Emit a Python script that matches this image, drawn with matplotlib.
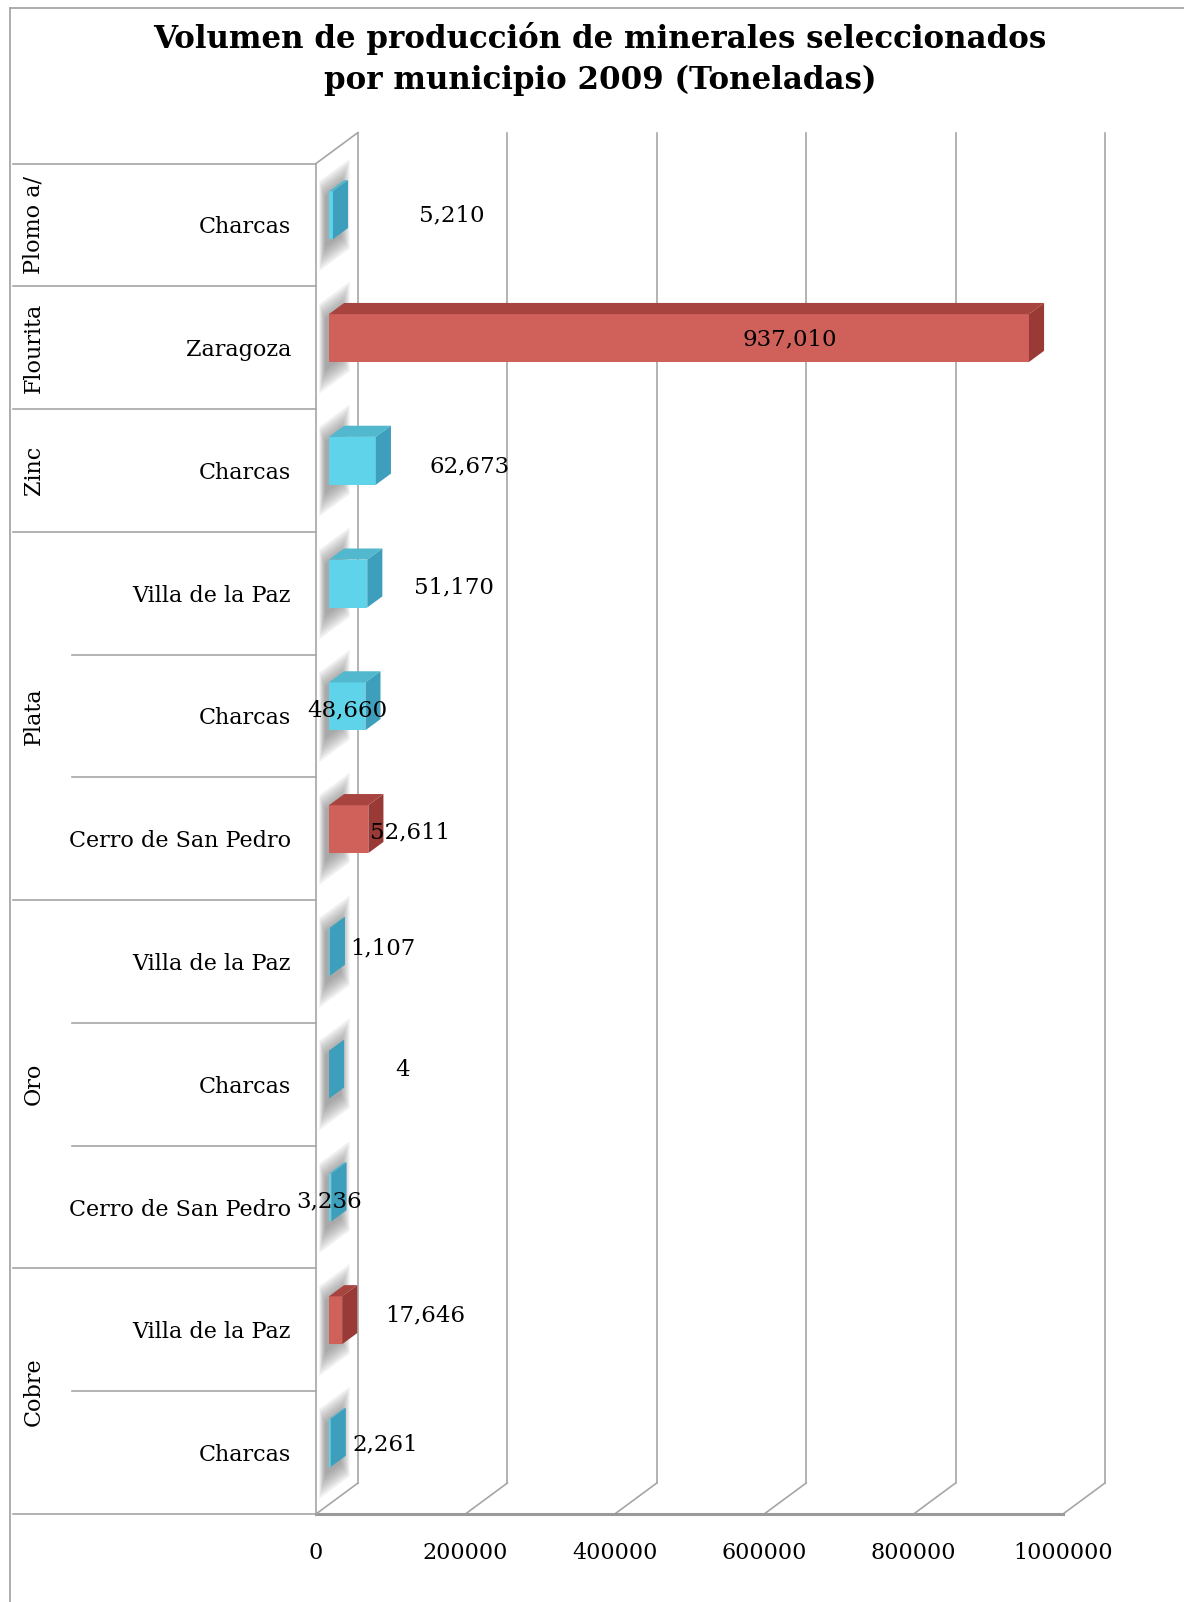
import matplotlib
matplotlib.use('Agg')
import matplotlib.pyplot as plt
from matplotlib.patches import Polygon, Rectangle
from matplotlib.lines import Line2D

# Producción 2009 por mineral y municipio (toneladas), de abajo hacia arriba
minerales = ['Cobre', 'Oro', 'Plata', 'Zinc', 'Flourita', 'Plomo a/']
filas_por_mineral = [2, 3, 3, 1, 1, 1]
municipios = ['Charcas', 'Villa de la Paz',
              'Cerro de San Pedro', 'Charcas', 'Villa de la Paz',
              'Cerro de San Pedro', 'Charcas', 'Villa de la Paz',
              'Charcas', 'Zaragoza', 'Charcas']
toneladas = [2261, 17646, 3236, 4, 1107, 52611, 48660, 51170, 62673, 937010, 5210]
serie_roja = [False, True, False, False, False, True, False, False, False, True, False]
ticks_x = [0, 200000, 400000, 600000, 800000, 1000000]

# desplazamiento de cada etiqueta respecto al extremo de su barra (pixeles)
pos_etiquetas = [(68, 8), (96, 14), (11, 6), (87, 14), (66, 13), (55, 6),
                 (-5, 6), (100, 6), (107, 4), (-226, 8), (132, 9)]

plt.rcParams['font.family'] = ['DejaVu Serif']

W, H = 1184, 1602
fig = plt.figure(figsize=(W / 100, H / 100), dpi=100)

x0, x1 = 316, 1063
y_top, y_bot = 163.5, 1514
ax = fig.add_axes([x0 / W, 1 - y_bot / H, (x1 - x0) / W, (y_bot - y_top) / H])
n = len(toneladas)
ax.set_xlim(0, 1000000)
ax.set_ylim(0, n)
for s in ax.spines.values():
    s.set_visible(False)

# profundidad del efecto 3D en unidades de datos
DX = 42 / (x1 - x0) * 1000000
DY = 31 / ((y_bot - y_top) / n)
d0, d1 = 0.31, 0.67
h = 0.195
grid = '#a6a6a6'

# pared del fondo y piso
for v in ticks_x:
    ax.plot([v + DX, v + DX], [DY, n + DY], color=grid, lw=1.2, clip_on=False, zorder=1)
    ax.plot([v, v + DX], [0, DY], color=grid, lw=1.2, clip_on=False, zorder=1)
ax.plot([0, 0], [0, n], color=grid, lw=1.2, clip_on=False, zorder=1)
ax.plot([0, DX], [n, n + DY], color=grid, lw=1.2, clip_on=False, zorder=1)
ax.plot([0, 1000000], [0, 0], color='#9a9a9a', lw=2.2, clip_on=False, zorder=1)

# barras
for i, v in enumerate(toneladas):
    c = i + 0.5
    if serie_roja[i]:
        frente, arriba, lado = '#d0605a', '#a8443f', '#9a3a36'
    else:
        frente, arriba, lado = '#5fd3ea', '#52b8cd', '#3e9fbc'
    # sombra difusa sobre la pared izquierda
    for k in range(8):
        e = k * 0.022
        da, db = 0.08 + k * 0.02, 0.8 - k * 0.03
        ya, yb_ = c - h - 0.2 + e, c + h + 0.14 - e
        ax.add_patch(Polygon([(da * DX, ya + da * DY), (db * DX, ya + db * DY),
                              (db * DX, yb_ + db * DY), (da * DX, yb_ + da * DY)],
                             closed=True, color='#6e6e6e', alpha=0.1, lw=0,
                             clip_on=False, zorder=2))
    yb = c - h + d0 * DY
    yt = c + h + d0 * DY
    ax.add_patch(Rectangle((d0 * DX, yb), v, yt - yb, facecolor=frente,
                           edgecolor='none', clip_on=False, zorder=4))
    ax.add_patch(Polygon([(d0 * DX, yt), (v + d0 * DX, yt),
                          (v + d1 * DX, yt + (d1 - d0) * DY), (d1 * DX, yt + (d1 - d0) * DY)],
                         closed=True, facecolor=arriba, edgecolor='none',
                         clip_on=False, zorder=4))
    ax.add_patch(Polygon([(v + d0 * DX, yb), (v + d0 * DX, yt),
                          (v + d1 * DX, yt + (d1 - d0) * DY), (v + d1 * DX, yb + (d1 - d0) * DY)],
                         closed=True, facecolor=lado, edgecolor='none',
                         clip_on=False, zorder=4))
    ax.annotate(f'{v:,}', (v, c), xytext=pos_etiquetas[i], textcoords='offset pixels',
                ha='center', va='center', fontsize=16.5, color='black', zorder=6,
                annotation_clip=False)

# eje de valores
ax.set_xticks(ticks_x, [str(t) for t in ticks_x])
ax.tick_params(axis='x', length=0, pad=20, labelsize=16)

# municipios como etiquetas del eje y
ax.set_yticks([i + 0.5 for i in range(n)], municipios)
ax.tick_params(axis='y', length=0, pad=18, labelsize=16)

# tabla de categorías a la izquierda
ytr = ax.get_yaxis_transform()
x_grupo = (13 - x0) / (x1 - x0)
x_fila = (72 - x0) / (x1 - x0)
x_texto = (34 - x0) / (x1 - x0)
limites = [0]
for f in filas_por_mineral:
    limites.append(limites[-1] + f)
for y in range(n + 1):
    xi = x_grupo if y in limites else x_fila
    ax.plot([xi, 0], [y, y], color=grid, lw=1.2, transform=ytr, clip_on=False)
for j, m in enumerate(minerales):
    yc = (limites[j] + limites[j + 1]) / 2
    ax.text(x_texto, yc, m, transform=ytr, rotation=90, ha='center', va='center',
            fontsize=16)

# marco exterior
fig.add_artist(Line2D([10 / W, 10 / W], [0, 1 - 8 / H], color='#a0a0a0', lw=1.2))
fig.add_artist(Line2D([10 / W, 1], [1 - 8 / H, 1 - 8 / H], color='#a0a0a0', lw=1.2))

fig.text(600 / W, 1 - 59 / H,
         'Volumen de producción de minerales seleccionados\npor municipio 2009 (Toneladas)',
         ha='center', va='center', fontsize=22.2, fontweight='bold', linespacing=1.4)

fig.savefig('out.png', dpi=100, facecolor='white')
